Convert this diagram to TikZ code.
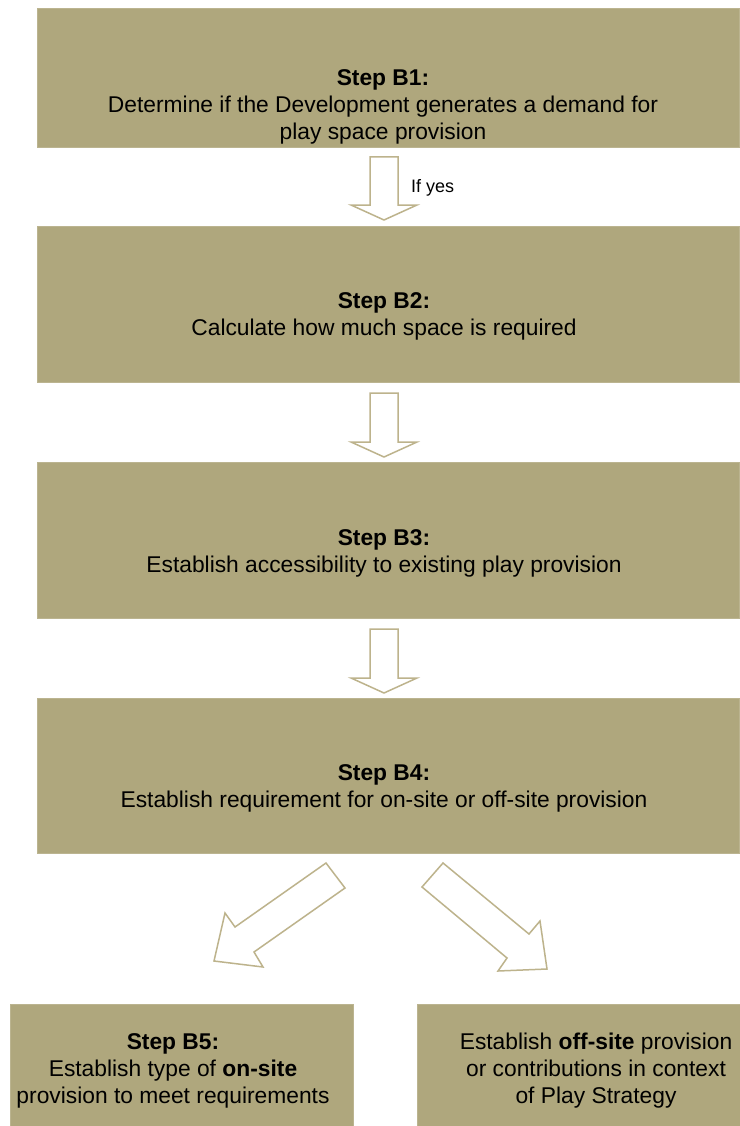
\documentclass[tikz,border=0pt]{standalone}
\usepackage{fontspec}
\setmainfont{Liberation Sans}
\definecolor{boxfill}{HTML}{AFA77D}
\definecolor{arrline}{HTML}{BDB38C}
\begin{document}
\begin{tikzpicture}[x=1pt,y=-1pt,
  stepbox/.style={fill=boxfill,draw=boxfill!85!white,line width=0.8pt,inner sep=0pt,anchor=north west},
  steptext/.style={align=center,font=\fontsize{22.8}{27}\selectfont,inner sep=0pt},
  blockarrow/.style={draw=arrline,line width=1.5pt,fill=white,line join=miter}]
\useasboundingbox (0,0) rectangle (739,1126);
\fill[white] (0,0) rectangle (739,1126);
% boxes
\node[stepbox,minimum width=702pt,minimum height=139pt] (b1) at (37,8) {};
\node[stepbox,minimum width=702pt,minimum height=156pt] (b2) at (37,226) {};
\node[stepbox,minimum width=702pt,minimum height=156pt] (b3) at (37,462) {};
\node[stepbox,minimum width=702pt,minimum height=155pt] (b4) at (37,698) {};
\node[stepbox,minimum width=343pt,minimum height=130pt] (b5) at (10,1004) {};
\node[stepbox,minimum width=330pt,minimum height=130pt] (b6) at (417,1004) {};
% texts
\node[steptext] (t1) at (383,107) {\textbf{Step B1:}\\Determine if the Development generates a demand for\\play space provision};
\node[steptext] (t2) at (384,316) {\textbf{Step B2:}\\Calculate how much space is required};
\node[steptext] (t3) at (384,553) {\textbf{Step B3:}\\Establish accessibility to existing play provision};
\node[steptext] (t4) at (384,788) {\textbf{Step B4:}\\Establish requirement for on-site or off-site provision};
\node[steptext] (t5) at (173,1071) {\textbf{Step B5:}\\Establish type of \textbf{on-site}\\provision to meet requirements};
\node[steptext] (t6) at (596,1071) {Establish \textbf{off-site} provision\\or contributions in context\\of Play Strategy};
% vertical block arrows
\foreach \ya/\yb [count=\i] in {157/220,393/457,629/693}{
  \pgfmathsetmacro{\yh}{\yb-15}
  \draw[blockarrow] (370,\ya) -- (398,\ya) -- (398,\yh) -- (417,\yh) -- (384,\yb) -- (351,\yh) -- (370,\yh) -- cycle;
}
\node[font=\fontsize{18}{20}\selectfont,anchor=west,inner sep=0pt] (ify) at (411,188) {If yes};
% diagonal block arrows
\draw[blockarrow] (326,863) -- (345,888) -- (254,952) -- (263,967) -- (214,961) -- (225,913) -- (235,927) -- cycle;
\draw[blockarrow] (443,863) -- (422,887) -- (507,958) -- (498,971) -- (547,969) -- (540,921) -- (529,934) -- cycle;
\end{tikzpicture}
\end{document}
